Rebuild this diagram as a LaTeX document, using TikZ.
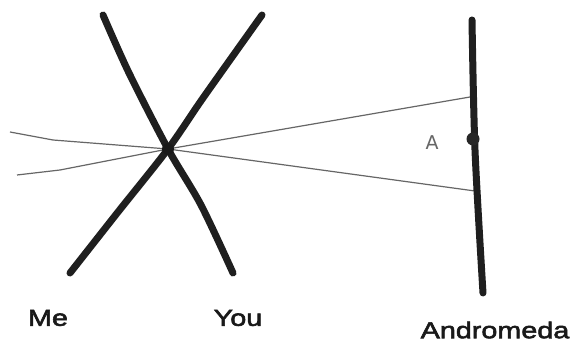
\documentclass[tikz,border=0pt]{standalone}
\usepackage{fontspec}
\newfontfamily\hand[FakeStretch=1.25,FakeBold=2.5]{Liberation Sans}
\newfontfamily\thin{DejaVu Sans}
\begin{document}
\begin{tikzpicture}[x=1pt,y=-1pt,
  world/.style={line width=7pt,line cap=round,line join=round,color=black!88},
  ray/.style={line width=1.2pt,color=black!60},
  lbl/.style={font=\hand\fontsize{23}{23}\selectfont,inner sep=0pt,text=black!90}]
\useasboundingbox (0,0) rectangle (579,347);
\fill[white] (0,0) rectangle (579,347);
% coordinates
\coordinate (C) at (168,149);
\coordinate (meTop) at (262,15);
\coordinate (meBot) at (70,273);
\coordinate (youTop) at (103,15);
\coordinate (youBot) at (233,273);
\coordinate (andTop) at (472,20);
\coordinate (andBot) at (483,293);
\coordinate (r1L) at (10,132);
\coordinate (r1R) at (475,191);
\coordinate (r2L) at (17,175);
\coordinate (r2R) at (470,97);
% rays
\draw[ray] (r1L) -- (53,140) -- (C) -- (r1R);
\draw[ray] (r2L) -- (60,170) -- (C) -- (r2R);
% world lines
\draw[world] plot[smooth,tension=0.5] coordinates {(youTop) (129,73) (C) (201,205) (youBot)};
\draw[world] plot[smooth,tension=0.5] coordinates {(meTop) (203,98) (C) (118,212) (meBot)};
\draw[world] plot[smooth,tension=0.5] coordinates {(andTop) (475,150) (andBot)};
\fill[black!90] (C) circle (6pt);
\node[circle,fill=black!85,minimum size=13pt,inner sep=0pt] (dotA) at (473,139) {};
\node[font=\thin\fontsize{19}{19}\selectfont,text=black!60,inner sep=0pt] (labA) at (432,143) {A};
\node[lbl] (me) at (48,318) {Me};
\node[lbl] (you) at (238,318) {You};
\node[lbl] (andro) at (495,330) {Andromeda};
\end{tikzpicture}
\end{document}
